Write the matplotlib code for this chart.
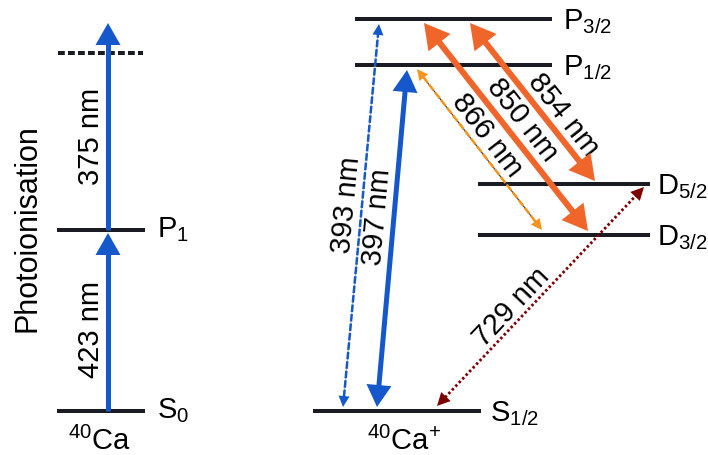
import numpy as np
import matplotlib
matplotlib.use("Agg")
import matplotlib.pyplot as plt

plt.rcParams["font.family"] = ["Liberation Sans", "DejaVu Sans"]
plt.rcParams["mathtext.default"] = "regular"

# Niveaux (coordonnees du schema, y vers le bas)
atom_levels = ["S", "P"]
atom_subs = ["0", "1"]
atom_level_y = [411, 230]
atom_limit_y = 53

ion_levels = ["S", "P", "P", "D", "D"]
ion_subs = ["1/2", "1/2", "3/2", "5/2", "3/2"]
ion_level_y = [411, 65, 19, 184, 235]

# Transitions : extremites (x, y) des fleches
pi_labels = ["423 nm", "375 nm"]
pi_start = [(108, 411), (108, 230)]
pi_end = [(108, 233), (108, 23)]

ion_labels = ["393 nm", "397 nm", "866 nm", "850 nm", "854 nm", "729 nm"]
ion_start = [(343, 407), (377, 407), (417, 69), (424, 23), (470, 23), (437, 406)]
ion_end = [(379, 24), (407, 70), (542, 230), (588, 231), (595, 181), (644, 187)]

BLUE = "#1458cc"
ORANGE = "#f0652a"
LORANGE = "#f7941d"
DRED = "#7d0000"
LEVEL = "#1b1b24"

fig = plt.figure(figsize=(7.08, 4.55), dpi=100)
ax = fig.add_axes([0, 0, 1, 1])
ax.set_xlim(0, 708)
ax.set_ylim(455, 0)
ax.axis("off")

PX = 0.72  # points par pixel


def fleche(p0, p1, color, lw, hl, hw, ls="-", heads=(True, True), under=None):
    p0 = np.array(p0, float)
    p1 = np.array(p1, float)
    d = p1 - p0
    u = d / np.hypot(*d)
    n = np.array([-u[1], u[0]])
    a = p0 + u * hl * 0.9 if heads[0] else p0
    b = p1 - u * hl * 0.9 if heads[1] else p1
    if under:
        ax.plot([a[0], b[0]], [a[1], b[1]], color=under, lw=lw * PX * 0.45, zorder=2)
    ax.plot([a[0], b[0]], [a[1], b[1]], color=color, lw=lw * PX, ls=ls,
            solid_capstyle="butt", dash_capstyle="butt", zorder=3)
    for tip, s, on in ((p0, 1, heads[0]), (p1, -1, heads[1])):
        if not on:
            continue
        base = tip + s * u * hl
        pts = np.array([tip, base + n * hw / 2, base - n * hw / 2])
        ax.fill(pts[:, 0], pts[:, 1], color=color, lw=0, zorder=4)


def angle(p0, p1):
    return np.degrees(np.arctan2(-(p1[1] - p0[1]), p1[0] - p0[0]))


# Niveaux atome neutre
for y in atom_level_y:
    ax.plot([57, 145], [y, y], color=LEVEL, lw=4 * PX, solid_capstyle="butt", zorder=1)
ax.plot([58, 143], [atom_limit_y, atom_limit_y], color=LEVEL, lw=4 * PX,
        ls=(0, (1.7, 0.8)), zorder=1)
for name, sub, y in zip(atom_levels, atom_subs, atom_level_y):
    ax.text(157, y + 7.5, name + "$_{\\mathregular{" + sub + "}}$", fontsize=21,
            va="baseline", ha="left")

# Niveaux ion
ion_x = {"S": (313, 481), "P": (355, 552), "D": (478, 650)}
ion_tx = {"S": 490, "P": 563, "D": 657}
for name, sub, y in zip(ion_levels, ion_subs, ion_level_y):
    x0, x1 = ion_x[name]
    ax.plot([x0, x1], [y, y], color=LEVEL, lw=4 * PX, solid_capstyle="butt", zorder=1)
    ax.text(ion_tx[name], y + 10, name + "$_{\\mathregular{" + sub + "}}$", fontsize=21,
            va="baseline", ha="left")

# Photoionisation
for lab, p0, p1, cy in zip(pi_labels, pi_start, pi_end, [330, 136]):
    fleche(p0, p1, BLUE, 5, 22, 25, heads=(False, True))
    ax.text(91, cy, lab, fontsize=21, rotation=90, ha="center", va="center",
            rotation_mode="anchor")

ax.text(28, 228, "Photoionisation", fontsize=22, rotation=90, ha="center", va="center",
        rotation_mode="anchor")

# Transitions ion
styles = [
    dict(color=BLUE, lw=2.5, hl=11, hw=11, ls=(0, (3, 0.8)), under="#b8b8b8"),
    dict(color=BLUE, lw=5, hl=22, hw=25),
    dict(color=LORANGE, lw=2.5, hl=11, hw=11, ls=(0, (3, 0.9)), under="#2b3a55"),
    dict(color=ORANGE, lw=6, hl=25, hw=28),
    dict(color=ORANGE, lw=6, hl=25, hw=28),
    dict(color=DRED, lw=2.8, hl=13, hw=13, ls=(0, (0.9, 0.9))),
]
label_pos = [(347, 205), (377, 217), (487, 135), (522, 120), (563, 115), (512, 307)]

for lab, p0, p1, st, (lx, ly) in zip(ion_labels, ion_start, ion_end, styles, label_pos):
    fleche(p0, p1, **st)
    ax.text(lx, ly, lab, fontsize=21, rotation=angle(p0, p1), ha="center", va="center",
            rotation_mode="anchor")

ax.text(99, 450, "$^{\\mathregular{40}}$Ca", fontsize=21, ha="center", va="baseline")
ax.text(404, 450, "$^{\\mathregular{40}}$Ca$^{\\mathregular{+}}$", fontsize=21,
        ha="center", va="baseline")

fig.savefig("out.png", dpi=100)
